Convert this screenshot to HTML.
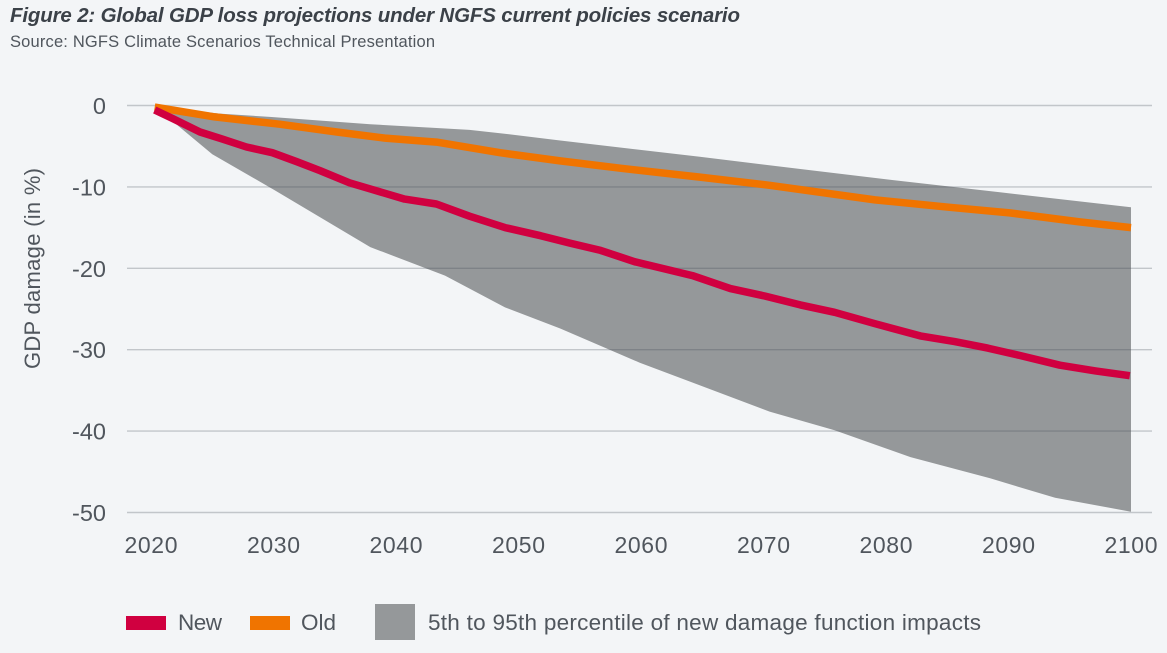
<!DOCTYPE html>
<html lang="en">
<head>
<meta charset="utf-8">
<title>Global GDP loss projections</title>
<style>
html,body{margin:0;padding:0;background:#f3f5f7;width:1167px;height:653px;overflow:hidden}
svg{display:block}
text{font-family:"Liberation Sans",sans-serif;fill:#50565d}
</style>
</head>
<body>
<svg id="chart" xmlns="http://www.w3.org/2000/svg" width="1167" height="653" viewBox="0 0 1167 653">
  <rect x="0" y="0" width="1167" height="653" fill="#f3f5f7"/>
  <text x="10" y="22" font-size="20.5" font-weight="700" font-style="italic" style="fill:#3b4148" textLength="730" lengthAdjust="spacing">Figure 2: Global GDP loss projections under NGFS current policies scenario</text>
  <text x="10" y="47" font-size="16.5" textLength="425" lengthAdjust="spacing">Source: NGFS Climate Scenarios Technical Presentation</text>
  <text transform="translate(40,369) rotate(-90)" font-size="22" textLength="201" lengthAdjust="spacing">GDP damage (in %)</text>
  <g id="band-layer"></g>
  <g id="grid-layer"></g>
  <g id="line-layer"></g>
  <g id="ytick-layer"></g>
  <g id="xtick-layer"></g>
  <g>
    <g>
      <rect x="126" y="616" width="40" height="14" fill="#d00040"/>
      <text x="178" y="630" font-size="22.5" textLength="44" lengthAdjust="spacing">New</text>
    </g>
    <g>
      <rect x="250" y="616" width="40" height="14" fill="#f07400"/>
      <text x="301" y="630" font-size="22.5" textLength="35" lengthAdjust="spacing">Old</text>
    </g>
    <g>
      <rect x="375" y="604" width="40" height="36" fill="#95989a"/>
      <text x="428" y="630" font-size="22.5" textLength="553" lengthAdjust="spacing">5th to 95th percentile of new damage function impacts</text>
    </g>
  </g>
</svg>
<script>
const yTicks = [0, -10, -20, -30, -40, -50];
const xTicks = [2020, 2030, 2040, 2050, 2060, 2070, 2080, 2090, 2100];

const newYears = [2020.3, 2021.7, 2024, 2025.8, 2027.8, 2029.9, 2031.9, 2033.8, 2036.2, 2038, 2040.7, 2043.3, 2046, 2048.9, 2051.8, 2054.2, 2056.7, 2059.5, 2062, 2064.2, 2067.3, 2070.1, 2073, 2075.8, 2079.1, 2082.8, 2085.6, 2088.3, 2090.9, 2094.2, 2097.1, 2099.9];
const newValues = [-0.55, -1.55, -3.25, -4.1, -5.1, -5.8, -6.9, -8.0, -9.5, -10.3, -11.5, -12.1, -13.6, -15, -16, -16.9, -17.8, -19.2, -20.1, -20.9, -22.5, -23.4, -24.5, -25.4, -26.8, -28.3, -29, -29.8, -30.7, -31.9, -32.6, -33.2];

const oldYears = [2020.3, 2025.2, 2030.5, 2035.4, 2039.1, 2043.3, 2048.5, 2053.4, 2058.3, 2064.8, 2070.5, 2079.1, 2085.2, 2090.1, 2095.8, 2100];
const oldValues = [-0.2, -1.4, -2.3, -3.3, -4, -4.5, -5.8, -6.8, -7.7, -8.8, -9.8, -11.6, -12.5, -13.2, -14.3, -15];

const upperYears = [2020.3, 2025.6, 2029.7, 2037.9, 2046, 2048.5, 2053.4, 2064.8, 2073, 2080.5, 2089.3, 2100];
const upperValues = [-0.1, -1, -1.4, -2.3, -3, -3.4, -4.3, -6.3, -7.8, -9.15, -10.66, -12.5];

const lowerYears = [2020.3, 2025, 2030.1, 2037.9, 2044, 2048.9, 2053.4, 2059.9, 2070.5, 2075.8, 2082, 2088.5, 2093.8, 2100];
const lowerValues = [-0.1, -6, -10.4, -17.4, -20.9, -24.8, -27.4, -31.6, -37.6, -39.9, -43.2, -45.8, -48.2, -49.9];

const NS = 'http://www.w3.org/2000/svg';
function xScale(year) { return 151 + (year - 2020) * 12.25; }
function yScale(value) { return 105.5 - value * 8.14; }
function pointList(years, values) {
  return years.map(function (yr, i) { return xScale(yr).toFixed(1) + ',' + yScale(values[i]).toFixed(1); });
}
function make(tag, attrs, parent) {
  const el = document.createElementNS(NS, tag);
  Object.keys(attrs).forEach(function (k) { el.setAttribute(k, attrs[k]); });
  parent.appendChild(el);
  return el;
}

const band = make('polygon', {
  points: pointList(upperYears, upperValues).concat(pointList(lowerYears, lowerValues).reverse()).join(' '),
  fill: '#95989a'
}, document.getElementById('band-layer'));



yTicks.forEach(function (t) {
  const g = make('line', {
    x1: 127, x2: 1152, y1: yScale(t), y2: yScale(t),
    stroke: 'rgba(70,75,85,0.28)', 'stroke-width': 1.4
  }, document.getElementById('grid-layer'));
  
  

  const lab = make('text', {
    x: 106, y: yScale(t) + 8.5, 'text-anchor': 'end', 'font-size': 23.5
  }, document.getElementById('ytick-layer'));
  
  
  lab.textContent = String(t);
});

xTicks.forEach(function (t) {
  const lab = make('text', {
    x: xScale(t), y: 553, 'text-anchor': 'middle', 'font-size': 23, textLength: 53, lengthAdjust: 'spacing'
  }, document.getElementById('xtick-layer'));
  
  
  lab.textContent = String(t);
});

const oldLine = make('polyline', {
  points: pointList(oldYears, oldValues).join(' '),
  fill: 'none', stroke: '#f07400', 'stroke-width': 7.5, 'stroke-linejoin': 'round'
}, document.getElementById('line-layer'));



const newLine = make('polyline', {
  points: pointList(newYears, newValues).join(' '),
  fill: 'none', stroke: '#d00040', 'stroke-width': 7.5, 'stroke-linejoin': 'round'
}, document.getElementById('line-layer'));


</script>
</body>
</html>
